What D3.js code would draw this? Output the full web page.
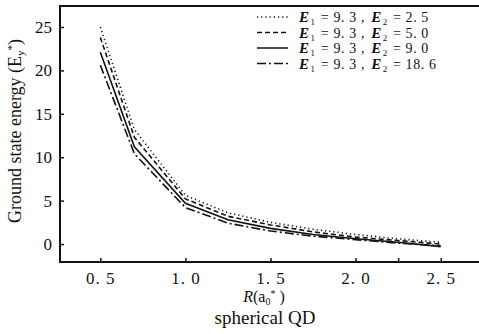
<!DOCTYPE html>
<html>
<head>
<meta charset="utf-8">
<script src="https://cdn.jsdelivr.net/npm/d3@7"></script>
<style>
    body { margin: 0; background: #fff; }
    svg text { font-family: "Liberation Serif", "DejaVu Serif", serif; fill: #111; }
</style>
</head>
<body>
<div id="chart"></div>
<script>
// radius R in units of a0*
var radii = [0.5, 0.7, 1.0, 1.25, 1.5, 1.75, 2.0, 2.25, 2.5];
var e2Labels = ["2. 5", "5. 0", "9. 0", "18. 6"];
var energyE2_25 = [25.0, 13.2, 5.6, 3.6, 2.5, 1.7, 1.1, 0.6, 0.2];
var energyE2_50 = [23.8, 12.3, 5.2, 3.2, 2.2, 1.4, 0.8, 0.4, 0.0];
var energyE2_90 = [22.1, 11.2, 4.7, 2.8, 1.8, 1.1, 0.6, 0.2, -0.3];
var energyE2_186 = [20.6, 10.4, 4.2, 2.4, 1.5, 0.9, 0.5, 0.1, -0.2];
var xTicks = [0.5, 1.0, 1.5, 2.0, 2.25, 2.5];
var xTickLabels = ["0. 5", "1. 0", "1. 5", "2. 0", "", "2. 5"];
var yTicks = [0, 5, 10, 15, 20, 25];

var width = 479, height = 334;
// plot box (no right border in the original)
var boxLeft = 60, boxTop = 6, boxBottom = 262, boxRight = 479;

var series = [
    { values: energyE2_25, dash: "1.2,3" },
    { values: energyE2_50, dash: "5,3" },
    { values: energyE2_90, dash: null },
    { values: energyE2_186, dash: "9,3,2,3" }
];

var svg = d3.select("#chart").append("svg")
    .attr("width", width)
    .attr("height", height);

var x = d3.scaleLinear().domain([0.263, 2.725]).range([boxLeft, boxRight]);
var y = d3.scaleLinear().domain([-2.07, 27.42]).range([boxBottom, boxTop]);

svg.append("path")
    .attr("d", "M" + boxRight + "," + boxTop + "H" + boxLeft + "V" + boxBottom + "H" + boxRight)
    .attr("fill", "none")
    .attr("stroke", "#111")
    .attr("stroke-width", 2);

// ticks point inwards
var xAxis = svg.append("g").attr("transform", "translate(0," + boxBottom + ")")
    .call(d3.axisBottom(x).tickValues(xTicks).tickSize(-4).tickPadding(10)
        .tickFormat(function (d, i) { return xTickLabels[i]; }));
xAxis.select(".domain").remove();
xAxis.selectAll("line").attr("stroke", "#111").attr("stroke-width", 1.5);
xAxis.selectAll("text").style("font-size", "17px").style("letter-spacing", "1px").attr("dy", "0.71em");

var yAxis = svg.append("g").attr("transform", "translate(" + boxLeft + ",0)")
    .call(d3.axisLeft(y).tickValues(yTicks).tickSize(-4).tickPadding(8));
yAxis.select(".domain").remove();
yAxis.selectAll("line").attr("stroke", "#111").attr("stroke-width", 1.5);
yAxis.selectAll("text").style("font-size", "17px");

var line = d3.line()
    .x(function (d) { return x(d[0]); })
    .y(function (d) { return y(d[1]); });

series.forEach(function (s) {
    svg.append("path")
        .datum(radii.map(function (r, i) { return [r, s.values[i]]; }))
        .attr("d", line)
        .attr("fill", "none")
        .attr("stroke", "#111")
        .attr("stroke-width", 1.6)
        .attr("stroke-dasharray", s.dash);
});

// legend
var legend = svg.append("g");
series.forEach(function (s, i) {
    var ly = 17 + i * 15.5;
    legend.append("line")
        .attr("x1", 257).attr("x2", 288)
        .attr("y1", ly).attr("y2", ly)
        .attr("stroke", "#111")
        .attr("stroke-width", 1.5)
        .attr("stroke-dasharray", s.dash);
    var t = legend.append("text")
        .attr("x", 299).attr("y", ly + 5)
        .style("font-size", "14px")
        .style("letter-spacing", "0.6px");
    t.append("tspan").text("E").style("font-style", "italic").style("font-weight", "bold").style("font-size", "15px");
    t.append("tspan").text("1").attr("dx", 1).attr("dy", 3).style("font-size", "9px");
    t.append("tspan").text(" = 9. 3 , ").attr("dx", 1).attr("dy", -3);
    t.append("tspan").text("E").attr("dx", 2).style("font-style", "italic").style("font-weight", "bold").style("font-size", "15px");
    t.append("tspan").text("2").attr("dx", 1).attr("dy", 3).style("font-size", "9px");
    t.append("tspan").text(" = " + e2Labels[i]).attr("dx", 1).attr("dy", -3);
});

// axis titles
var yl = svg.append("text")
    .attr("transform", "translate(21,131) rotate(-90)")
    .attr("text-anchor", "middle")
    .style("font-size", "18px");
yl.append("tspan").text("Ground state energy (E");
yl.append("tspan").text("y").attr("dy", 3).style("font-size", "11px");
yl.append("tspan").text("*").attr("dy", -9).style("font-size", "11px");
yl.append("tspan").text(")").attr("dy", 6);

var xl = svg.append("text")
    .attr("x", 264).attr("y", 302)
    .attr("text-anchor", "middle")
    .style("font-size", "16px");
xl.append("tspan").text("R").style("font-style", "italic");
xl.append("tspan").text("(a");
xl.append("tspan").text("0").attr("dy", 3).style("font-size", "10px");
xl.append("tspan").text("*").attr("dy", -8).style("font-size", "10px");
xl.append("tspan").text(" )").attr("dy", 5);

svg.append("text")
    .attr("x", 265).attr("y", 324)
    .attr("text-anchor", "middle")
    .style("font-size", "19px")
    .text("spherical QD");
</script>
</body>
</html>
